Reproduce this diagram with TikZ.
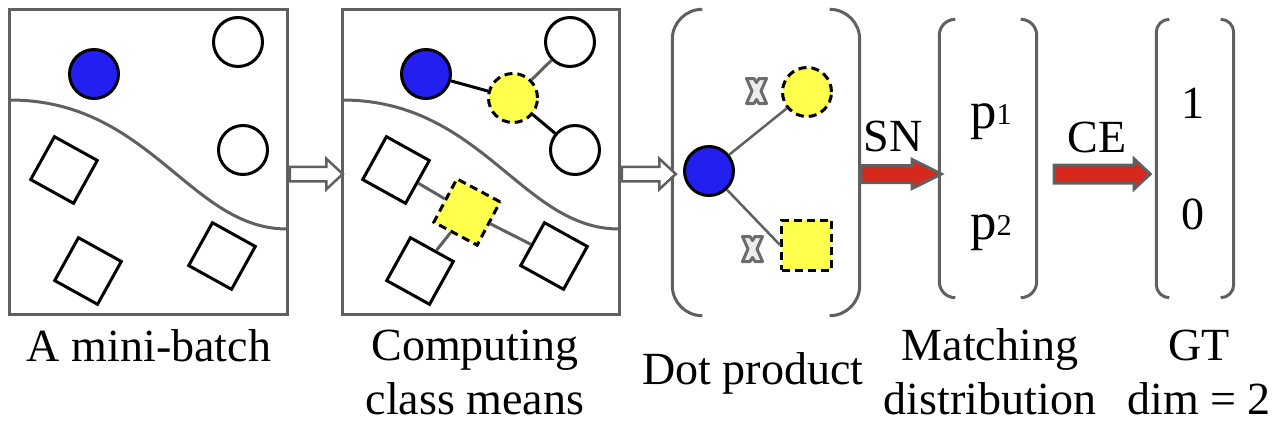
\documentclass[tikz,border=0pt]{standalone}
\usepackage{fontspec}
\setmainfont{Liberation Serif}
\usepackage{xcolor}
\usepackage{tikz}
\usetikzlibrary{arrows.meta,positioning,calc,shapes.arrows}

\definecolor{ptblue}{RGB}{34,31,240}
\definecolor{ptyellow}{RGB}{255,255,77}
\definecolor{linegray}{RGB}{96,96,96}
\definecolor{arrred}{RGB}{214,40,28}
\newcommand{\lblfont}{\fontsize{13.1}{15.1}\selectfont}
\newcommand{\pfont}{\fontsize{15}{18}\selectfont}
\newcommand{\idxfont}{\fontsize{8.6}{10}\selectfont}

\begin{document}
\begin{tikzpicture}[
  panel/.style={draw=linegray,line width=0.03cm,minimum width=2.77cm,minimum height=3.05cm,inner sep=0},
  circ/.style={circle,draw=black,line width=0.03cm,minimum size=0.49cm,inner sep=0},
  query/.style={circ,fill=ptblue},
  sq/.style={rectangle,draw=black,line width=0.03cm,minimum size=0.49cm,inner sep=0,rotate=-29},
  mean/.style={dash pattern=on 0.08cm off 0.05cm,fill=ptyellow},
  link/.style={line width=0.03cm},
  curve/.style={draw=linegray,line width=0.03cm},
  bracket/.style={draw=linegray,line width=0.03cm},
  hollowarr/.style={single arrow,draw=linegray,fill=white,line width=0.025cm,inner xsep=0,inner ysep=0.06cm,
    single arrow head extend=0.08cm,single arrow tip angle=86},
  redarr/.style={single arrow,draw=linegray,fill=arrred,line width=0.03cm,inner xsep=0,inner ysep=0.07cm,
    single arrow head extend=0.06cm},
  xmark/.style={draw=gray!85!black,fill=gray!15,line width=0.03cm,line join=round},
  lbl/.style={font=\lblfont,align=center,inner sep=0}
]
\useasboundingbox (0,0) rectangle (12.78,-4.24);

% the two mini-batch panels
\foreach \dx/\s in {0/a,3.32/b}{
  \begin{scope}[xshift=\dx cm]
    \node[panel] (box\s) at (1.485,-1.615) {};
    \draw[curve] (0.10,-1.00) .. controls (1.50,-1.00) and (1.90,-2.29) .. (2.87,-2.29);
    \node[query] (q\s) at (0.94,-0.74) {};
    \node[circ] (ca\s) at (2.38,-0.42) {};
    \node[circ] (cb\s) at (2.43,-1.50) {};
    \node[sq] (sq1\s) at (0.64,-1.70) {};
    \node[sq] (sq2\s) at (0.88,-2.71) {};
    \node[sq] (sq3\s) at (2.22,-2.56) {};
  \end{scope}
}
\node[circ,mean] (cmean) at (5.13,-0.98) {};
\node[sq,mean,rotate=1] (smean) at (4.67,-2.12) {};
\draw[link] (qb) -- (cmean);
\draw[link] (cmean) -- (cbb);
\draw[link,linegray] (cmean) -- (cab);
\foreach \n in {1,2,3}
  \draw[link,linegray] (sq\n b) -- (smean);

% dot product
\node[minimum width=1.86cm,minimum height=3.05cm,inner sep=0] (dot) at (7.66,-1.625) {};
\node[query] (q) at (7.09,-1.71) {};
\node[circ,mean] (cm) at (8.07,-0.92) {};
\node[rectangle,draw=black,line width=0.03cm,minimum size=0.5cm,inner sep=0,mean] (sm) at (8.065,-2.45) {};
\draw[link,linegray,line width=0.025cm] (q) -- (cm);
\draw[link,linegray,line width=0.025cm] (q) -- (sm.west);
\foreach \x/\y in {7.565/-0.91,7.525/-2.49}
  \draw[xmark,shift={(\x,\y)}] (-0.10,0.125) -- (-0.025,0.125) -- (0,0.085) -- (0.025,0.125) -- (0.10,0.125)
    -- (0.045,0) -- (0.10,-0.125) -- (0.025,-0.125) -- (0,-0.085) -- (-0.025,-0.125) -- (-0.10,-0.125)
    -- (-0.045,0) -- cycle;

% matching distribution and ground truth
\node[minimum width=0.96cm,minimum height=2.77cm,inner sep=0] (match) at (9.88,-1.585) {};
\node[minimum width=0.76cm,minimum height=2.77cm,inner sep=0] (gt) at (11.95,-1.585) {};
\node[anchor=base,inner sep=0] (p1) at (9.91,-1.28) {\pfont p\raisebox{0.04cm}{\idxfont 1}};
\node[anchor=base,inner sep=0] (p2) at (9.91,-2.39) {\pfont p\raisebox{0.04cm}{\idxfont 2}};
\node[lbl,anchor=base] (g1) at (11.93,-1.18) {1};
\node[lbl,anchor=base] (g0) at (11.93,-2.29) {0};

\foreach \n/\d in {dot/0.30,match/0.16,gt/0.13}{
  \draw[bracket,rounded corners=\d cm] ([xshift=\d cm]\n.north west) -| (\n.south west) -- ++(\d,0);
  \draw[bracket,rounded corners=\d cm] ([xshift=-\d cm]\n.north east) -| (\n.south east) -- ++(-\d,0);
}

% arrows
\coordinate (ay) at (0,-1.74);
\node[hollowarr,minimum height=0.53cm,anchor=tail] (ar1) at (boxa.east |- ay) {};
\node[hollowarr,minimum height=0.54cm,anchor=tail] (ar2) at (boxb.east |- ay) {};
\node[redarr,minimum height=0.80cm,single arrow tip angle=53,anchor=tail] (sn) at (dot.east |- ay) {};
\node[redarr,minimum height=0.96cm,single arrow tip angle=86,inner ysep=0.075cm,anchor=tail] (ce)
  at ($(match.east |- ay)+(0.16,0)$) {};
\node[lbl,anchor=base] at (8.93,-1.51) {SN};
\node[lbl,anchor=base] at (10.97,-1.52) {CE};

% captions
\node[lbl,anchor=base] (cap1) at (1.49,-3.61) {A mini-batch};
\node[lbl,anchor=base] (cap2) at (4.75,-4.14) {Computing\\class means};
\node[lbl,anchor=base] (cap3) at (7.53,-3.84) {Dot product};
\node[lbl,anchor=base] (cap4) at (9.90,-4.14) {Matching\\distribution};
\node[lbl,anchor=base] (cap5) at (11.99,-4.14) {GT\\dim = 2};
\end{tikzpicture}
\end{document}
